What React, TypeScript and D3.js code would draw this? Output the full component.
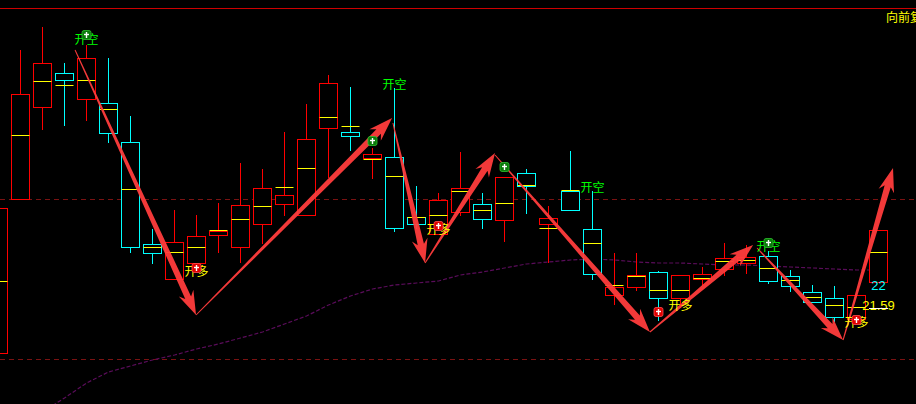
import * as d3 from "d3";
import React from "react";

// candle data (price)
const opens = [20.64, 23.72, 25.56, 26.24, 25.72, 25.64, 24.86, 22.82, 22.12, 22.44, 23.0, 22.76, 23.22, 23.62, 23.4, 25.14, 25.06, 24.54, 24.56, 23.36, 23.02, 23.46, 23.62, 23.3, 24.24, 23.22, 23.88, 23.12, 21.8, 21.96, 22.26, 21.74, 22.12, 22.32, 22.44, 22.58, 22.18, 21.86, 21.74, 21.32, 22.06];
const closes = [23.54, 25.82, 26.44, 26.1, 26.54, 25.04, 22.76, 22.64, 22.86, 22.98, 23.08, 23.6, 23.94, 23.8, 24.92, 26.04, 24.98, 24.62, 23.14, 23.22, 23.7, 23.94, 23.32, 24.16, 23.98, 23.34, 23.5, 22.22, 21.96, 22.2, 21.74, 22.2, 22.22, 22.54, 22.56, 22.08, 21.98, 21.66, 21.36, 21.8, 23.1];
const highs = [23.54, 26.7, 27.16, 26.44, 26.8, 26.54, 25.38, 23.12, 23.5, 23.4, 23.64, 24.44, 24.32, 25.06, 25.62, 26.2, 25.96, 24.74, 25.94, 23.98, 23.84, 24.66, 23.84, 24.16, 24.32, 23.58, 24.68, 23.88, 22.64, 22.64, 22.28, 22.2, 22.36, 22.84, 22.8, 22.68, 22.3, 22.0, 21.98, 21.8, 23.1];
const lows = [20.64, 23.72, 25.12, 25.2, 25.3, 24.86, 22.66, 22.44, 22.12, 22.38, 22.66, 22.46, 22.84, 23.4, 23.4, 24.16, 24.7, 24.14, 23.08, 23.14, 23.02, 23.4, 23.14, 22.88, 23.44, 22.46, 23.5, 22.12, 21.62, 21.9, 21.3, 21.56, 22.0, 22.2, 22.24, 22.04, 21.88, 21.66, 21.28, 21.32, 22.06];
const mids = [22.08, 25.0, 26.08, 26.0, 26.1, 25.52, 23.92, 22.76, 22.66, 22.76, 23.1, 23.32, 23.58, 23.96, 24.34, 25.36, 25.18, 24.52, 24.18, 23.36, 23.4, 23.88, 23.5, 23.64, 24.0, 23.14, 23.9, 22.84, 22.0, 22.18, 21.9, 21.9, 22.14, 22.48, 22.5, 22.34, 22.1, 21.76, 21.6, 21.56, 22.66];

// moving average, starting at candle 2
const maStart = 2;
const maValues = [19.46, 19.74, 20.04, 20.26, 20.38, 20.5, 20.6, 20.72, 20.82, 20.94, 21.06, 21.22, 21.38, 21.6, 21.78, 21.92, 22.0, 22.04, 22.08, 22.2, 22.26, 22.34, 22.42, 22.46, 22.5, 22.52, 22.5, 22.46, 22.44, 22.44, 22.42, 22.4, 22.4, 22.38, 22.36, 22.34, 22.32, 22.3, 22.3];

const gridLevels = [23.72, 20.52];

// signals: [candle index, price]
const shortLabels = [[4, 26.94], [18, 26.04], [27, 23.98], [35, 22.8]];
const shortMarks = [[4, 27.0], [17, 24.88], [23, 24.36], [35, 22.84]];
const longLabels = [[9, 22.3], [20, 23.14], [31, 21.62], [39, 21.28]];
const longMarks = [[9, 22.34], [20, 23.18], [30, 21.46], [39, 21.3]];

// trend arrows: [fromIndex, fromPrice, toIndex, toPrice]
const arrows = [
  [3.48, 26.7, 8.98, 21.4],
  [8.98, 21.4, 17.89, 25.34],
  [17.93, 25.24, 19.39, 22.44],
  [19.39, 22.44, 22.57, 24.64],
  [22.57, 24.6, 29.61, 21.06],
  [29.61, 21.06, 34.3, 22.8],
  [34.48, 22.74, 38.39, 20.9],
  [38.39, 20.9, 40.66, 24.34],
];

const priceLabels = [
  { value: 22, text: "22", color: "#00ffff" },
  { value: 21.59, text: "21.59", color: "#ffff00" },
];

const W = 916;
const H = 404;

const x = d3.scaleLinear().domain([0, 40]).range([-1.5, 878.5]);
const y = d3.scaleLinear().domain([19.62, 27.54]).range([404, 8]);
const py = (p: number) => Math.round(y(p)) + 0.5;

const RED = "#ff0000";
const CYAN = "#00ffff";
const YELLOW = "#ffff00";

function arrowPoints(x0: number, y0: number, x1: number, y1: number) {
  const dx = x1 - x0;
  const dy = y1 - y0;
  const L = Math.hypot(dx, dy);
  const ux = dx / L, uy = dy / L;
  const nx = -uy, ny = ux;
  const head = 24, hw = 8, notch = 5, w0 = 0.5, w1 = 3.2;
  const pt = (a: number, b: number) => [x0 + ux * a + nx * b, y0 + uy * a + ny * b].join(",");
  return [
    pt(0, w0),
    pt(L - head + notch, w1),
    pt(L - head, hw),
    pt(L, 0),
    pt(L - head, -hw),
    pt(L - head + notch, -w1),
    pt(0, -w0),
  ].join(" ");
}

const Marker = ({ i, p, up }: { i: number; p: number; up: boolean }) => {
  const cx = x(i);
  const cy = y(p);
  return (
    <g>
      <rect
        x={cx - 4.5}
        y={cy - 4.5}
        width={9}
        height={9}
        rx={2}
        fill={up ? "#e00000" : "#0a7a0a"}
        stroke={up ? "#ff5050" : "#2fbf2f"}
        strokeWidth={0.8}
      />
      <line x1={cx - 2.5} x2={cx + 2.5} y1={cy - 0.5} y2={cy - 0.5} stroke="#fff" strokeWidth={1.4} />
      <line x1={cx} x2={cx} y1={cy - 3} y2={cy + 3} stroke="#fff" strokeWidth={1.4} />
    </g>
  );
};

export default function App() {
  const maLine = d3
    .line<number>()
    .x((_, k) => x(k + maStart))
    .y((d) => y(d));

  const lastX = x(opens.length - 1);

  return (
    <svg
      width={W}
      height={H}
      style={{ position: "fixed", left: 0, top: 0, background: "#000", display: "block" }}
    >
      <rect width={W} height={H} fill="#000" />
      <line x1={0} x2={W} y1={py(27.54)} y2={py(27.54)} stroke="#cc0000" strokeWidth={1} />

      {gridLevels.map((g, k) => (
        <line key={k} x1={0} x2={W} y1={py(g)} y2={py(g)} stroke="#7a1212" strokeDasharray="5,4" />
      ))}

      <path d={maLine(maValues) || ""} fill="none" stroke="#5a0c5a" strokeWidth={1.2} strokeDasharray="4,2" />

      {opens.map((o, i) => {
        const c = closes[i];
        const up = c >= o;
        const color = up ? RED : CYAN;
        const cx = x(i);
        const top = py(Math.max(o, c));
        const bot = py(Math.min(o, c));
        return (
          <g key={i}>
            {py(highs[i]) < top && (
              <line x1={cx} x2={cx} y1={py(highs[i]) - 0.5} y2={top} stroke={color} />
            )}
            {py(lows[i]) > bot && (
              <line x1={cx} x2={cx} y1={bot} y2={py(lows[i]) + 0.5} stroke={color} />
            )}
            <rect x={cx - 9} y={top} width={18} height={Math.max(bot - top, 0)} fill="#000" stroke={color} />
            <line x1={cx - 9} x2={cx + 9} y1={py(mids[i])} y2={py(mids[i])} stroke={YELLOW} />
          </g>
        );
      })}

      {arrows.map((a, k) => (
        <polygon
          key={k}
          points={arrowPoints(x(a[0]), y(a[1]), x(a[2]), y(a[3]))}
          fill="#ff3c3c"
          fillOpacity={0.95}
        />
      ))}

      {shortLabels.map(([i, p], k) => (
        <text
          key={"s" + k}
          x={x(i)}
          y={y(p)}
          fill="#00ff00"
          fontSize={12}
          fontFamily="'Noto Sans CJK SC', sans-serif"
          textAnchor="middle"
          dominantBaseline="central"
        >
          开空
        </text>
      ))}
      {longLabels.map(([i, p], k) => (
        <text
          key={"l" + k}
          x={x(i)}
          y={y(p)}
          fill={YELLOW}
          fontSize={12}
          fontFamily="'Noto Sans CJK SC', sans-serif"
          textAnchor="middle"
          dominantBaseline="central"
        >
          开多
        </text>
      ))}
      {shortMarks.map(([i, p], k) => (
        <Marker key={"sm" + k} i={i} p={p} up={false} />
      ))}
      {longMarks.map(([i, p], k) => (
        <Marker key={"lm" + k} i={i} p={p} up={true} />
      ))}

      {priceLabels.map((l, k) => (
        <text
          key={"p" + k}
          x={lastX}
          y={y(l.value)}
          fill={l.color}
          fontSize={13}
          fontFamily="'Liberation Sans', Arial, sans-serif"
          textAnchor="middle"
          dominantBaseline="central"
        >
          {l.text}
        </text>
      ))}
      <line x1={lastX - 9.5} x2={lastX + 9.5} y1={py(21.59) + 2} y2={py(21.59) + 2} stroke="#fff" />

      <text
        x={886}
        y={22}
        fill={YELLOW}
        fontSize={12}
        fontFamily="'Noto Sans CJK SC', sans-serif"
      >
        向前复权
      </text>
    </svg>
  );
}
